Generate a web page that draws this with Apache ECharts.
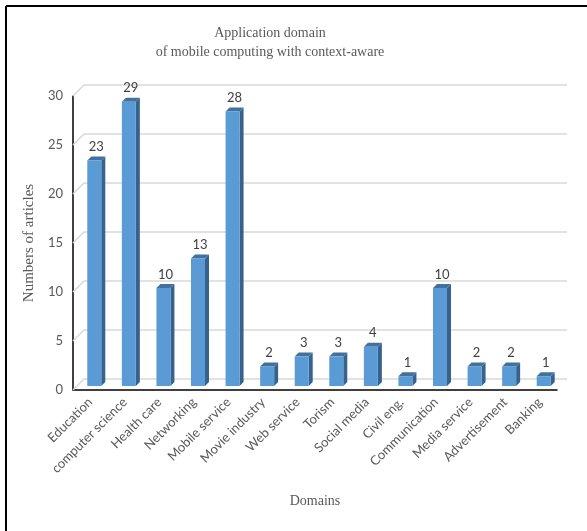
<!DOCTYPE html>
<html>
<head>
<meta charset="utf-8">
<script src="https://cdn.jsdelivr.net/npm/echarts@6/dist/echarts.min.js"></script>
<style>
  html, body { margin: 0; padding: 0; background: #fff; }
  #chart { width: 587px; height: 531px; }
</style>
</head>
<body>
<div id="chart"></div>
<script>
// 类别
var domains = ["Education", "computer science", "Health care", "Networking", "Mobile service",
  "Movie industry", "Web service", "Torism", "Social media", "Civil eng.",
  "Communication", "Media service", "Advertisement", "Banking"];
// 文章数量
var articles = [23, 29, 10, 13, 28, 2, 3, 3, 4, 1, 10, 2, 2, 1];
// 网格线刻度
var yTicks = [0, 5, 10, 15, 20, 25, 30];

var depth = 4;      // 柱子的厚度
var wallOff = 11;   // 背墙偏移

/*立体柱子*/
function renderBar(params, api) {
  var v = api.value(1);
  var top = api.coord([api.value(0), v]);
  var base = api.coord([api.value(0), 0]);
  var w = 14;
  var x0 = top[0] + 4 - w / 2, x1 = x0 + w;
  var yT = top[1] - 4, yB = base[1] - 4;
  return {
    type: 'group',
    children: [
      {type: 'polygon', shape: {points: [[x1, yB], [x1 + depth, yB - depth], [x1 + depth, yT - depth], [x1, yT]]},
        style: {fill: '#36628E'}},
      {type: 'polygon', shape: {points: [[x0, yT], [x1, yT], [x1 + depth, yT - depth], [x0 + depth, yT - depth]]},
        style: {fill: '#41719C'}},
      {type: 'rect', shape: {x: x0, y: yT, width: w, height: yB - yT}, style: {fill: '#5B9BD5'}},
      {type: 'text', style: {text: String(v), x: x0 + w / 2 + 2, y: yT - depth - 3,
        align: 'center', verticalAlign: 'bottom', fill: '#404040', fontSize: 13, fontFamily: 'Lato'}}
    ]
  };
}

/*背墙网格线*/
function renderGrid(params, api) {
  var p = api.coord([0, api.value(1)]);
  var cs = params.coordSys;
  return {
    type: 'polyline',
    shape: {points: [[cs.x, p[1]], [cs.x + wallOff, p[1] - wallOff], [cs.x + cs.width + 10, p[1] - wallOff]]},
    style: {stroke: '#D9D9D9', lineWidth: 1.5, fill: null}
  };
}

var myChart = echarts.init(document.getElementById('chart'));
myChart.setOption({
  animation: false,
  title: {
    text: 'Application domain\nof mobile computing with context-aware',
    left: 265,
    textAlign: 'center',
    top: 19,
    textStyle: {fontFamily: 'Liberation Serif, serif', fontSize: 14, fontWeight: 'normal', color: '#595959', lineHeight: 19}
  },
  grid: {left: 73, right: 30, top: 96, bottom: 141},
  xAxis: {
    type: 'category',
    data: domains,
    name: 'Domains',
    nameLocation: 'middle',
    nameGap: 104,
    nameTextStyle: {fontFamily: 'Liberation Serif, serif', fontSize: 14, color: '#595959'},
    axisLine: {lineStyle: {color: '#000', width: 1.5}},
    axisTick: {show: false},
    axisLabel: {rotate: 45, interval: 0, margin: 10, color: '#595959', fontSize: 13, fontFamily: 'Lato'}
  },
  yAxis: {
    type: 'value',
    min: 0, max: 30, interval: 5,
    name: 'Numbers of articles',
    nameLocation: 'middle',
    nameGap: 33,
    nameTextStyle: {fontFamily: 'Liberation Serif, serif', fontSize: 15, color: '#595959'},
    axisLine: {show: true, lineStyle: {color: '#000', width: 1.5}},
    axisTick: {show: false},
    splitLine: {show: false},
    axisLabel: {margin: 10, color: '#595959', fontSize: 13, fontFamily: 'Lato'}
  },
  series: [
    {
      type: 'custom',
      z: 1,
      renderItem: renderGrid,
      data: yTicks.map(function (t) { return [0, t]; }),
      silent: true
    },
    {
      type: 'custom',
      z: 3,
      renderItem: renderBar,
      data: articles.map(function (v, i) { return [i, v]; })
    }
  ],
  graphic: [
    {type: 'line', shape: {x1: 6, y1: 6, x2: 587, y2: 6}, style: {stroke: '#000', lineWidth: 2}},
    {type: 'line', shape: {x1: 6, y1: 6, x2: 6, y2: 531}, style: {stroke: '#000', lineWidth: 2}}
  ]
});
</script>
</body>
</html>
